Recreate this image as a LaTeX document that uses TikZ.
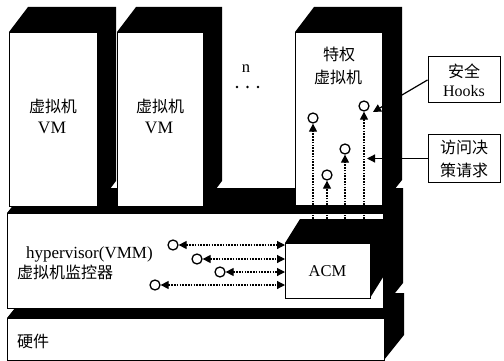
\documentclass[tikz,border=0pt]{standalone}
\usepackage{fontspec}
\setmainfont{Liberation Serif}
\newfontfamily\cjk{Noto Sans CJK SC}
\usetikzlibrary{arrows.meta}
\begin{document}
\begin{tikzpicture}[x=1pt,y=-1pt,
  face/.style={fill=white,draw=black,line width=1pt,inner sep=0pt,anchor=north west},
  txt/.style={inner sep=0pt,align=center,font=\fontsize{16.5}{20}\selectfont},
  cj/.style={inner sep=0pt,align=center,font=\cjk\fontsize{16}{20}\selectfont},
  ring/.style={circle,draw,line width=1.3pt,minimum size=10pt,inner sep=0pt},
  dots/.style={dash pattern=on 1.6pt off 1.2pt,line width=1.2pt},
  tip/.style={-{Triangle[length=8pt,width=8pt]}},
  tips/.style={{Triangle[length=8pt,width=8pt]}-{Triangle[length=8pt,width=8pt]}},
  sidebox/.style={draw,line width=1pt,fill=white,minimum width=72pt,inner sep=0pt,align=center},
]
\useasboundingbox (0,0) rectangle (504,361);

% hardware
\fill[black] (7,318) -- (27,293) -- (404,293) -- (404,335) -- (384,360) -- (384,318) -- cycle;
\node[face,minimum width=377pt,minimum height=42pt] (hw) at (7,318) {};
\node[cj,anchor=west] (hwt) at (17,341.5) {硬件};

% hypervisor
\fill[black] (7,213) -- (27,188) -- (403,188) -- (403,283) -- (383,308) -- (383,213) -- cycle;
\node[face,minimum width=376pt,minimum height=95pt] (hyp) at (7,213) {};
\node[txt,anchor=base west,font=\fontsize{17}{20}\selectfont] (hypt) at (26,258) {hypervisor(VMM)};
\node[cj,anchor=west] (hypc) at (17,272.5) {虚拟机监控器};

% VM 1
\fill[black] (9,32) -- (28,7) -- (116,7) -- (116,181) -- (97,206) -- (97,32) -- cycle;
\node[face,minimum width=88pt,minimum height=174pt] (vm1) at (9,32) {};
\node[cj] (vm1a) at (53,106) {虚拟机};
\node[txt,font=\fontsize{17.5}{20}\selectfont] (vm1b) at (52,128) {VM};

% VM 2
\fill[black] (117,32) -- (136,7) -- (222,7) -- (222,181) -- (203,206) -- (203,32) -- cycle;
\node[face,minimum width=86pt,minimum height=174pt] (vm2) at (117,32) {};
\node[cj] (vm2a) at (160,106) {虚拟机};
\node[txt,font=\fontsize{17.5}{20}\selectfont] (vm2b) at (159,128) {VM};

% n ...
\node[txt] (n) at (246,69) {n};
\fill (237,87) circle (1.3) (247.5,87) circle (1.3) (258,87) circle (1.3);

% privileged VM
\fill[black] (295,32) -- (314,7) -- (402,7) -- (402,180) -- (382,205) -- (382,32) -- cycle;
\node[face,minimum width=87pt,minimum height=173pt] (pvm) at (295,32) {};
\node[cj] (pvma) at (339,54) {特权};
\node[cj] (pvmb) at (338,77) {虚拟机};

% ACM
\fill[black] (285,243) -- (300,219) -- (385,219) -- (385,274) -- (370,298) -- (370,243) -- cycle;
\node[face,minimum width=85pt,minimum height=55pt] (acmf) at (285,243) {};
\node[txt] (acm) at (327.5,271) {ACM};

% vertical dotted arrows
\node[ring] (v1) at (313,118) {};
\node[ring] (v2) at (327,175) {};
\node[ring] (v3) at (345,149) {};
\node[ring] (v4) at (364,106) {};
\foreach \v in {v1,v2,v3,v4}{
  \draw[dots,tip] (\v |- acmf.north) ++(0,-24) -- (\v.south);
}

% horizontal dotted arrows
\node[ring] (h1) at (173,245) {};
\node[ring] (h2) at (197,259) {};
\node[ring] (h3) at (220,272) {};
\node[ring] (h4) at (155,285) {};
\foreach \h in {h1,h2,h3,h4}{
  \draw[dots,tips] (\h.east) -- (acmf.west |- \h);
}

% side boxes
\node[sidebox,minimum height=46pt,font=\fontsize{16}{19}\selectfont] (hooks) at (464,80) {{\cjk 安全}\\Hooks};
\node[sidebox,minimum height=47pt,font=\cjk\fontsize{16}{23}\selectfont] (access) at (464,158.5) {访问决\\策请求};
\coordinate (hk) at (373,112);
\coordinate (ac) at (367,158.5);
\draw[line width=1.2pt,tip] (hooks.west) -- (hk);
\draw[line width=1.2pt,tip] (access.west) -- (ac);
\end{tikzpicture}
\end{document}
